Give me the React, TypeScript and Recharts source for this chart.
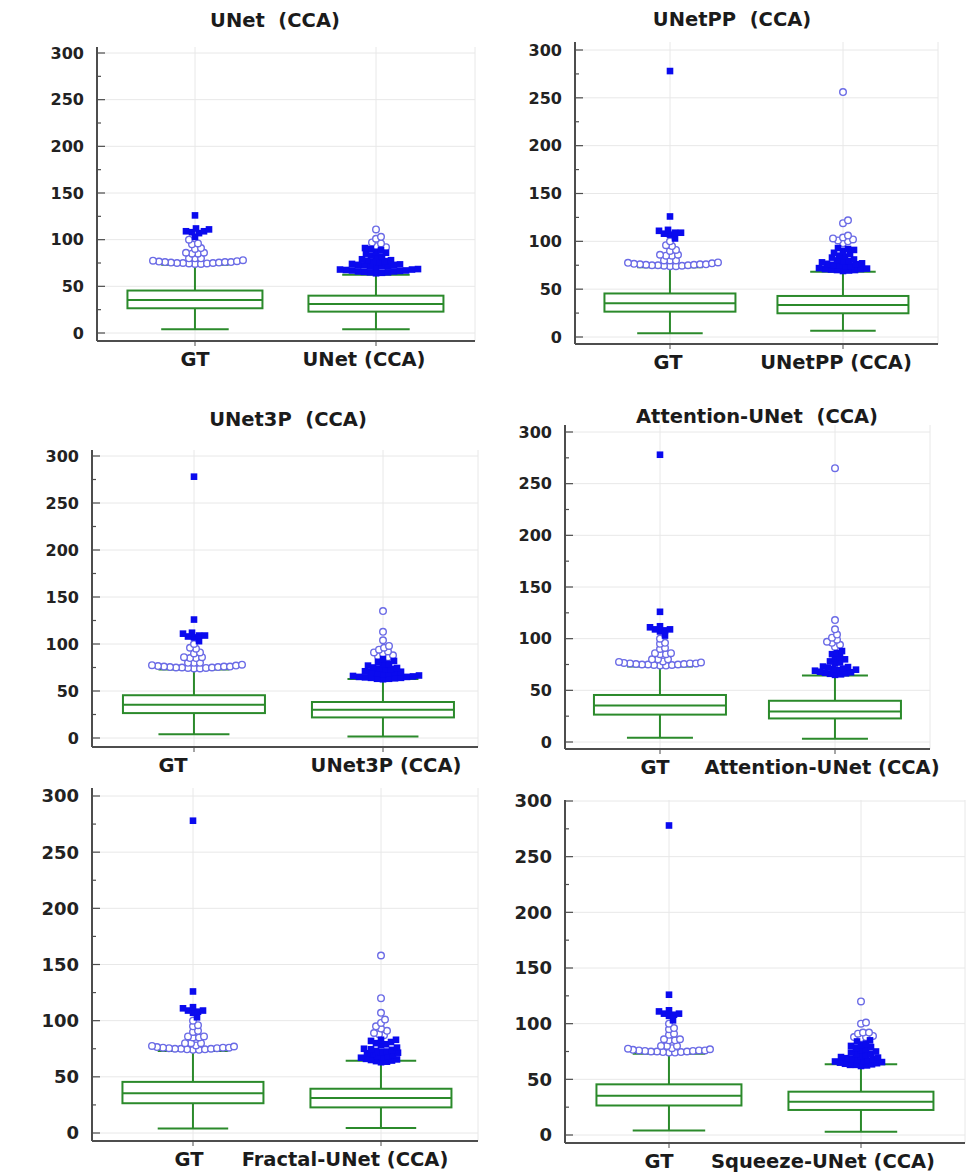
import { ComposedChart, Bar, Scatter, XAxis, YAxis, CartesianGrid } from 'recharts'

const FONT = '"DejaVu Sans", Verdana, sans-serif'
const BOX_GREEN = '#2b8a2b'
const AXIS_GRAY = '#4d4d4d'
const GRID_GRAY = '#e8e8e8'
const OPEN_BLUE = '#6b6be6'
const FILLED_BLUE = '#0a0aee'

const yTicks = [0, 50, 100, 150, 200, 250, 300]
const yMinorTicks = [0, 25, 50, 75, 100, 125, 150, 175, 200, 225, 250, 275, 300]
const models = ['UNet', 'UNetPP', 'UNet3P', 'Attention-UNet', 'Fractal-UNet', 'Squeeze-UNet']

// whisker low, Q1, median, Q3, whisker high
const gtStats = [4, 26.5, 35.3, 45.5, 73]
const unetStats = [4, 22.9, 31, 40, 62.5]
const unetppStats = [6.6, 24.8, 33.4, 42.9, 68.3]
const unet3pStats = [1.7, 21.9, 30.1, 38.3, 62.8]
const attentionStats = [3.2, 22.8, 29.6, 39.9, 64.3]
const fractalStats = [4.4, 22.8, 31.1, 39.4, 64.3]
const squeezeStats = [3, 22.5, 29.9, 38.9, 63.5]

// GT outliers (open circles / filled squares)
const gtOpen = [74, 74, 74.5, 74.5, 75, 75, 75, 75.5, 75.5, 76, 76, 76, 76.5, 77, 77.5, 78,
  80, 80, 80, 85, 85, 86, 86, 90, 91, 95, 96, 100]
const gtFilled = [103, 107, 108, 109, 109, 111, 112, 126]
const gtFilledWithMax = [...gtFilled, 278]

const unetOpen = [92, 93, 96, 97, 101, 103, 111]
const unetFilled = [64, 64.5, 65, 65, 65.5, 66, 66, 66.5, 67, 67, 67.5, 68, 68, 68.5,
  71, 71.5, 72, 72, 72.5, 73, 73, 73.5, 74, 76, 76.5, 77, 77.5, 78, 79,
  81, 82, 83, 85, 86, 87, 89, 90, 91]

const unetppOpen = [98, 100, 101, 102, 103, 104, 106, 119, 122, 256]
const unetppFilled = [69, 69.5, 70, 70, 70.5, 71, 71, 71.5, 72, 74, 74.5, 75, 75.5, 76, 76.5, 77,
  78, 79, 79.5, 80, 81, 83, 84, 85, 87, 88, 90, 91, 92, 93]

const unet3pOpen = [86, 87, 88, 90, 91, 92, 94, 96, 98, 104, 113, 135]
const unet3pFilled = [62.5, 63, 63, 63.5, 64, 64, 64.5, 65, 65, 65.5, 66, 66.5,
  68, 68.5, 69, 69.5, 70, 70.5, 71, 73, 73.5, 74, 74.5, 75, 77, 78, 79, 81, 82, 84]

const attentionOpen = [92, 94, 96, 97, 99, 101, 104, 109, 118, 265]
const attentionFilled = [65, 65.5, 66, 66.5, 67, 67.5, 68, 69, 69.5, 70, 70.5, 71,
  72, 72.5, 73, 76, 77, 78, 80, 81, 82, 85, 86, 88]

const fractalOpen = [87, 88, 89, 91, 93, 95, 98, 101, 107, 120, 158]
const fractalFilled = [63, 63.5, 64, 64.5, 65, 65.5, 66, 67, 67.5, 68, 68.5, 69,
  70, 71, 71.5, 72, 72.5, 73, 74, 74.5, 75, 76, 78, 79, 80, 81, 82, 83, 83]

const squeezeOpen = [87, 88, 88, 89, 91, 92, 92, 100, 101, 120]
const squeezeFilled = [62, 62.5, 63, 63, 63.5, 64, 64.5, 65, 65.5, 66, 66.5, 67, 67.5, 68,
  68.5, 69, 69.5, 70, 71, 72, 72.5, 73, 74, 75, 76, 77, 78, 79, 80, 81, 82, 84, 85]

const series = [
  { stats: unetStats, open: unetOpen, filled: unetFilled, gtFilled },
  { stats: unetppStats, open: unetppOpen, filled: unetppFilled, gtFilled: gtFilledWithMax },
  { stats: unet3pStats, open: unet3pOpen, filled: unet3pFilled, gtFilled: gtFilledWithMax },
  { stats: attentionStats, open: attentionOpen, filled: attentionFilled, gtFilled: gtFilledWithMax },
  { stats: fractalStats, open: fractalOpen, filled: fractalFilled, gtFilled: gtFilledWithMax },
  { stats: squeezeStats, open: squeezeOpen, filled: squeezeFilled, gtFilled: gtFilledWithMax },
]

// plot frame per panel: axis lines, where 0 / 300 sit, category centres
const layout = [
  { x0: 97, x1: 475, y0: 47, y1: 341, zeroY: 333, topY: 53, gtX: 195, otherX: 376, boxW: 135, tickFont: 16, shift: [0, -12], title: { x: 275, y: 21 } },
  { x0: 575, x1: 938, y0: 42, y1: 344, zeroY: 337, topY: 50, gtX: 670, otherX: 843, boxW: 131, tickFont: 16, shift: [-2, -7], title: { x: 732, y: 20 } },
  { x0: 92, x1: 478, y0: 450, y1: 747, zeroY: 738, topY: 456, gtX: 194, otherX: 383, boxW: 142, tickFont: 16, shift: [-21, 3], title: { x: 288, y: 420 } },
  { x0: 565, x1: 930, y0: 425, y1: 749, zeroY: 742, topY: 432, gtX: 660, otherX: 835, boxW: 132, tickFont: 16, shift: [-5, -13], title: { x: 757, y: 417 } },
  { x0: 92, x1: 478, y0: 788, y1: 1141, zeroY: 1133, topY: 796, gtX: 193, otherX: 381, boxW: 141, tickFont: 18, shift: [-4, -36], title: null },
  { x0: 565, x1: 965, y0: 800, y1: 1143, zeroY: 1135, topY: 801, gtX: 669, otherX: 861, boxW: 145, tickFont: 18, shift: [-10, -38], title: null },
]

const AXIS_W = 75
const PAD_TOP = 16
const PAD_RIGHT = 30
const X_AXIS_H = 40
const MARK = 6.6
const SPACING = 5.1

// beeswarm: push markers sideways until they stop overlapping
function swarm(cat: number, open: number[], filled: number[], pxPerY: number, pxPerX: number) {
  const items = [
    ...open.map((v) => ({ v, kind: 'open' })),
    ...filled.map((v) => ({ v, kind: 'filled' })),
  ].sort((a, b) => a.v - b.v)
  const placed: [number, number][] = []
  return items.map((it) => {
    const py = it.v * pxPerY
    let off = 0
    for (let k = 0; k < 600; k++) {
      const c = k === 0 ? 0 : (k % 2 === 1 ? 1 : -1) * Math.ceil(k / 2)
      if (placed.every(([qx, qy]) => Math.hypot(qx - c, qy - py) >= SPACING)) {
        off = c
        break
      }
    }
    placed.push([off, py])
    return { x: cat + off / pxPerX, y: it.v, kind: it.kind }
  })
}

// whiskers + box + median; the bar spans [whisker low, whisker high]
const makeBoxShape = (boxW: number) => (props: any) => {
  const { x, y, width, height, payload } = props
  if (!payload) return null
  const [lo, q1, med, q3, hi] = payload.stats
  const top = Math.min(y, y + height)
  const h = Math.abs(height)
  const py = (v: number) => top + ((hi - v) / (hi - lo)) * h
  const cx = x + width / 2
  const half = boxW / 2
  const cap = boxW / 4
  return (
    <g stroke={BOX_GREEN} strokeWidth={2} fill="none">
      <line x1={cx} x2={cx} y1={py(hi)} y2={py(lo)} />
      <line x1={cx - cap} x2={cx + cap} y1={py(lo)} y2={py(lo)} />
      <line x1={cx - cap} x2={cx + cap} y1={py(hi)} y2={py(hi)} />
      <rect x={cx - half} y={py(q3)} width={boxW} height={py(q1) - py(q3)} fill="#fff" />
      <line x1={cx - half} x2={cx + half} y1={py(med)} y2={py(med)} />
    </g>
  )
}

const OpenMark = (p: any) => (
  <circle cx={p.cx} cy={p.cy} r={MARK / 2} fill="#fff" stroke={OPEN_BLUE} strokeWidth={1.4} />
)
const FilledMark = (p: any) => (
  <rect x={p.cx - MARK / 2} y={p.cy - MARK / 2} width={MARK} height={MARK} fill={FILLED_BLUE} />
)

function Panel({ idx }: { idx: number }) {
  const L = layout[idx]
  const s = series[idx]
  const name = models[idx]
  const pxPerY = (L.zeroY - L.topY) / 300
  const yMin = -(L.y1 - L.zeroY) / pxPerY
  const yMax = 300 + (L.topY - L.y0) / pxPerY
  const pxPerX = L.otherX - L.gtX
  const xMin = (L.x0 - L.gtX) / pxPerX
  const xMax = 1 + (L.x1 - L.otherX) / pxPerX

  const rows = [
    { x: 0, range: [gtStats[0], gtStats[4]], stats: gtStats },
    { x: 1, range: [s.stats[0], s.stats[4]], stats: s.stats },
  ]
  const pts = [
    ...swarm(0, gtOpen, s.gtFilled, pxPerY, pxPerX),
    ...swarm(1, s.open, s.filled, pxPerY, pxPerX),
  ]
  const labels = ['GT', `${name} (CCA)`]

  const CatTick = (p: any) => {
    const i = p.payload.value === 0 ? 0 : 1
    return (
      <text x={p.x + L.shift[i]} y={p.y} dy={18} textAnchor="middle" fontFamily={FONT}
        fontWeight="bold" fontSize={19.5} fill="#1b1b1b">
        {labels[i]}
      </text>
    )
  }

  // ticks point into the plot; labels only on the 50s
  const ValueTick = (p: any) => {
    const v = p.payload.value
    const major = v % 50 === 0
    return (
      <g>
        <line x1={AXIS_W} x2={AXIS_W + (major ? 8 : 4)} y1={p.y} y2={p.y} stroke={AXIS_GRAY} strokeWidth={1.2} />
        {major && (
          <text x={AXIS_W - 13} y={p.y} dy="0.36em" textAnchor="end" fontFamily={FONT}
            fontWeight="bold" fontSize={L.tickFont} fill="#222">
            {v}
          </text>
        )}
      </g>
    )
  }

  return (
    <div style={{ position: 'absolute', left: L.x0 - AXIS_W, top: L.y0 - PAD_TOP }}>
      <ComposedChart
        width={L.x1 - L.x0 + AXIS_W + PAD_RIGHT}
        height={L.y1 - L.y0 + PAD_TOP + X_AXIS_H}
        data={rows}
        margin={{ top: PAD_TOP, right: PAD_RIGHT, left: 0, bottom: 0 }}
      >
        <CartesianGrid stroke={GRID_GRAY} horizontalValues={yTicks} />
        <XAxis
          type="number"
          dataKey="x"
          domain={[xMin, xMax]}
          ticks={[0, 1]}
          interval={0}
          allowDataOverflow
          height={X_AXIS_H}
          axisLine={{ stroke: AXIS_GRAY, strokeWidth: 2 }}
          tickLine={{ stroke: AXIS_GRAY }}
          tickSize={5}
          tick={CatTick}
        />
        <YAxis
          type="number"
          domain={[yMin, yMax]}
          ticks={yMinorTicks}
          interval={0}
          allowDataOverflow
          width={AXIS_W}
          axisLine={{ stroke: AXIS_GRAY, strokeWidth: 2 }}
          tickLine={false}
          tick={ValueTick}
        />
        <Bar dataKey="range" barSize={L.boxW} shape={makeBoxShape(L.boxW)} isAnimationActive={false} />
        <Scatter data={pts.filter((p) => p.kind === 'open')} dataKey="y" shape={OpenMark} isAnimationActive={false} />
        <Scatter data={pts.filter((p) => p.kind === 'filled')} dataKey="y" shape={FilledMark} isAnimationActive={false} />
      </ComposedChart>
    </div>
  )
}

export default function App() {
  return (
    <div style={{ position: 'absolute', left: 0, top: 0, width: 971, height: 1174, background: '#fff', overflow: 'hidden' }}>
      {layout.map((_, i) => (
        <Panel key={i} idx={i} />
      ))}
      {layout.map((L, i) =>
        L.title ? (
          <div
            key={`t${i}`}
            style={{
              position: 'absolute', left: L.title.x - 200, top: L.title.y - 12, width: 400,
              lineHeight: '24px', textAlign: 'center', whiteSpace: 'pre', fontFamily: FONT,
              fontWeight: 'bold', fontSize: 19.5, color: '#1b1b1b',
            }}
          >
            {`${models[i]}  (CCA)`}
          </div>
        ) : null
      )}
    </div>
  )
}
